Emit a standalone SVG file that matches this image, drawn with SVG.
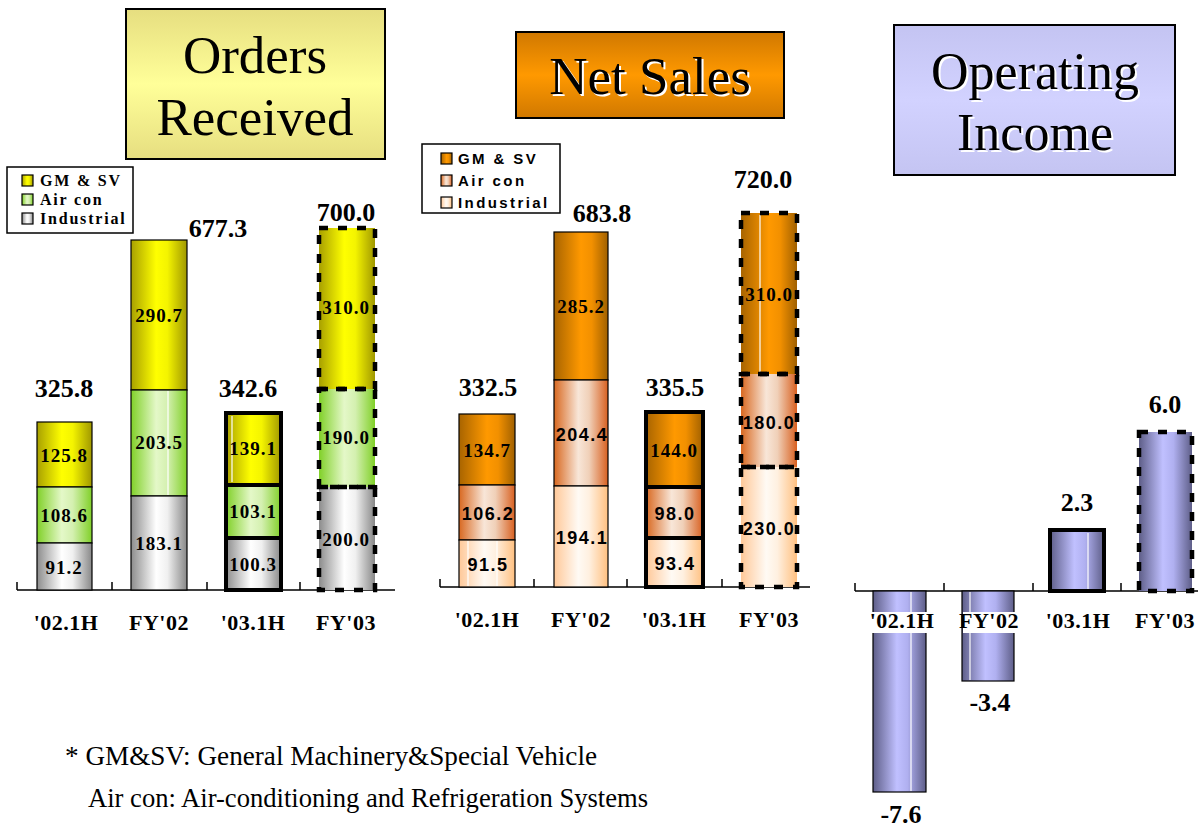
<svg xmlns="http://www.w3.org/2000/svg" width="1198" height="827" viewBox="0 0 1198 827">
<style>
.title{font-family:"Liberation Serif",serif;text-anchor:middle;fill:#000}
.tot{font-family:"Liberation Serif",serif;font-weight:bold;font-size:26px;text-anchor:middle}
.seg{font-family:"Liberation Serif",serif;font-weight:bold;font-size:19px;letter-spacing:1px;text-anchor:middle}
.segs{font-family:"Liberation Sans",sans-serif;font-weight:bold;font-size:18px;letter-spacing:1.5px;text-anchor:middle}
.cat{font-family:"Liberation Serif",serif;font-weight:bold;font-size:22px;letter-spacing:0.5px;text-anchor:middle}
.leg1{font-family:"Liberation Serif",serif;font-weight:bold;font-size:16px;letter-spacing:1.8px}
.leg2{font-family:"Liberation Sans",sans-serif;font-weight:bold;font-size:15px;letter-spacing:2.4px}
.note{font-family:"Liberation Serif",serif}
.thin{stroke:#000;stroke-width:1.2}
.thick{stroke:#000;stroke-width:4}
.dash{stroke:#000;stroke-width:4.5;stroke-dasharray:9 10;fill:none}
.hl{stroke:#fff;stroke-width:1.2}
.ax{stroke:#000;stroke-width:1.5;fill:none}
.box{stroke:#000;stroke-width:2}
</style>
<defs>
<linearGradient id="gY" x1="0" y1="0" x2="1" y2="0"><stop offset="0" stop-color="#a8a000"/><stop offset="0.45" stop-color="#ffff00"/><stop offset="0.65" stop-color="#f4f400"/><stop offset="1" stop-color="#a09800"/></linearGradient>
<linearGradient id="gG" x1="0" y1="0" x2="1" y2="0"><stop offset="0" stop-color="#80d028"/><stop offset="0.45" stop-color="#e4f8c8"/><stop offset="0.65" stop-color="#d4f0b0"/><stop offset="1" stop-color="#80d028"/></linearGradient>
<linearGradient id="gW" x1="0" y1="0" x2="1" y2="0"><stop offset="0" stop-color="#8c8c8c"/><stop offset="0.45" stop-color="#ffffff"/><stop offset="0.65" stop-color="#f0f0f0"/><stop offset="1" stop-color="#888888"/></linearGradient>
<linearGradient id="gO" x1="0" y1="0" x2="1" y2="0"><stop offset="0" stop-color="#a86400"/><stop offset="0.5" stop-color="#ff9900"/><stop offset="0.7" stop-color="#f29000"/><stop offset="1" stop-color="#a06000"/></linearGradient>
<linearGradient id="gA" x1="0" y1="0" x2="1" y2="0"><stop offset="0" stop-color="#d86820"/><stop offset="0.45" stop-color="#f8e6d8"/><stop offset="0.65" stop-color="#f0d0b8"/><stop offset="1" stop-color="#d86020"/></linearGradient>
<linearGradient id="gI" x1="0" y1="0" x2="1" y2="0"><stop offset="0" stop-color="#ffc898"/><stop offset="0.45" stop-color="#fffaf4"/><stop offset="0.65" stop-color="#fff0e0"/><stop offset="1" stop-color="#ffc080"/></linearGradient>
<linearGradient id="gP" x1="0" y1="0" x2="1" y2="0"><stop offset="0" stop-color="#5e5e88"/><stop offset="0.45" stop-color="#c0c0ff"/><stop offset="0.65" stop-color="#b0b0f0"/><stop offset="1" stop-color="#5e5e88"/></linearGradient>
<linearGradient id="tY" x1="0" y1="0" x2="0" y2="1"><stop offset="0" stop-color="#e6de80"/><stop offset="0.5" stop-color="#ffff99"/><stop offset="1" stop-color="#e6de80"/></linearGradient>
<linearGradient id="tO" x1="0" y1="0" x2="0" y2="1"><stop offset="0" stop-color="#d07800"/><stop offset="0.5" stop-color="#ff9900"/><stop offset="1" stop-color="#d07800"/></linearGradient>
<linearGradient id="tP" x1="0" y1="0" x2="0" y2="1"><stop offset="0" stop-color="#c4c4f2"/><stop offset="0.5" stop-color="#d2d2ff"/><stop offset="1" stop-color="#c4c4f2"/></linearGradient>
</defs>
<rect width="1198" height="827" fill="#fff"/>

<g id="title-orders">
<rect x="126" y="9" width="259" height="150" fill="url(#tY)" class="box"/>
<text class="title" x="255" y="73" font-size="53">Orders</text>
<text class="title" x="255" y="135" font-size="53">Received</text>
</g>
<g id="title-sales">
<rect x="516" y="32" width="268" height="86" fill="url(#tO)" class="box"/>
<text class="title" x="652" y="96" font-size="53" style="fill:#fff">Net Sales</text>
<text class="title" x="650" y="94" font-size="53">Net Sales</text>
</g>
<g id="title-income">
<rect x="894" y="25" width="281" height="150" fill="url(#tP)" class="box"/>
<text class="title" x="1037" y="91" font-size="52" style="fill:#fff">Operating</text>
<text class="title" x="1035" y="89" font-size="52">Operating</text>
<text class="title" x="1037" y="152" font-size="52" style="fill:#fff">Income</text>
<text class="title" x="1035" y="150" font-size="52">Income</text>
</g>

<g id="legend-orders">
<rect x="7" y="167" width="126" height="66" fill="#fff" stroke="#000" stroke-width="1.5"/>
<rect x="22" y="175" width="11" height="11" fill="url(#gY)" class="thin"/>
<text class="leg1" x="40" y="186">GM &amp; SV</text>
<rect x="22" y="194" width="11" height="11" fill="url(#gG)" class="thin"/>
<text class="leg1" x="40" y="205">Air con</text>
<rect x="22" y="213" width="11" height="11" fill="url(#gW)" class="thin"/>
<text class="leg1" x="40" y="224">Industrial</text>
</g>
<g id="legend-sales">
<rect x="422" y="144" width="138" height="69" fill="#fff" stroke="#000" stroke-width="1.5"/>
<rect x="441" y="153" width="11" height="11" fill="url(#gO)" class="thin"/>
<text class="leg2" x="458" y="164">GM &amp; SV</text>
<rect x="441" y="175" width="11" height="11" fill="url(#gA)" class="thin"/>
<text class="leg2" x="458" y="186">Air con</text>
<rect x="441" y="197" width="11" height="11" fill="url(#gI)" class="thin"/>
<text class="leg2" x="458" y="208">Industrial</text>
</g>

<g id="axes">
<path class="ax" d="M17 590H395M17 582V590M112 582V590M207 582V590M300 582V590"/>
<path class="ax" d="M440 587H810M440 579V587M534 579V587M627 579V587M722 579V587"/>
<path class="ax" d="M855 591H1198M855 583V591M944 583V591M1033 583V591M1121 583V591"/>
</g>

<!-- Orders Received bars -->
<g id="or-0201H">
<rect x="37" y="422" width="55" height="65" fill="url(#gY)" class="thin"/>
<rect x="37" y="487" width="55" height="56" fill="url(#gG)" class="thin"/>
<rect x="37" y="543" width="55" height="47" fill="url(#gW)" class="thin"/>
<text class="tot" x="64" y="397">325.8</text>
<text class="seg" x="64" y="462">125.8</text>
<text class="seg" x="64" y="522">108.6</text>
<text class="seg" x="64" y="574">91.2</text>
</g>
<g id="or-FY02">
<rect x="131" y="240" width="56" height="150" fill="url(#gY)" class="thin"/>
<rect x="131" y="390" width="56" height="106" fill="url(#gG)" class="thin"/>
<line x1="168" y1="391" x2="168" y2="495" class="hl"/>
<rect x="131" y="496" width="56" height="94" fill="url(#gW)" class="thin"/>
<text class="tot" x="218" y="237">677.3</text>
<text class="seg" x="159" y="322">290.7</text>
<text class="seg" x="159" y="449">203.5</text>
<text class="seg" x="159" y="550">183.1</text>
</g>
<g id="or-0301H">
<rect x="226" y="413" width="55" height="72" fill="url(#gY)" class="thick"/>
<line x1="232" y1="416" x2="232" y2="482" class="hl"/>
<rect x="226" y="485" width="55" height="53" fill="url(#gG)" class="thick"/>
<rect x="226" y="538" width="55" height="52" fill="url(#gW)" class="thick"/>
<text class="tot" x="248" y="397">342.6</text>
<text class="seg" x="253" y="455">139.1</text>
<text class="seg" x="253" y="518">103.1</text>
<text class="seg" x="253" y="571">100.3</text>
</g>
<g id="or-FY03">
<rect x="319" y="228" width="56" height="161" fill="url(#gY)"/>
<rect x="319" y="389" width="56" height="98" fill="url(#gG)"/>
<rect x="319" y="487" width="56" height="103" fill="url(#gW)"/>
<rect x="319" y="228" width="56" height="161" class="dash"/>
<rect x="319" y="389" width="56" height="98" class="dash"/>
<rect x="319" y="487" width="56" height="103" class="dash"/>
<text class="tot" x="346" y="221">700.0</text>
<text class="seg" x="346" y="314">310.0</text>
<text class="seg" x="346" y="444">190.0</text>
<text class="seg" x="346" y="546">200.0</text>
</g>
<g id="or-categories">
<text class="cat" x="66" y="630">'02.1H</text>
<text class="cat" x="159" y="630">FY'02</text>
<text class="cat" x="253" y="630">'03.1H</text>
<text class="cat" x="346" y="630">FY'03</text>
</g>

<!-- Net Sales bars -->
<g id="ns-0201H">
<rect x="459" y="414" width="56" height="71" fill="url(#gO)" class="thin"/>
<rect x="459" y="485" width="56" height="55" fill="url(#gA)" class="thin"/>
<rect x="459" y="540" width="56" height="47" fill="url(#gI)" class="thin"/>
<line x1="468" y1="541" x2="468" y2="586" class="hl"/>
<line x1="497" y1="541" x2="497" y2="586" class="hl"/>
<text class="tot" x="488" y="396">332.5</text>
<text class="seg" x="487" y="457">134.7</text>
<text class="segs" x="488" y="520">106.2</text>
<text class="segs" x="488" y="571">91.5</text>
</g>
<g id="ns-FY02">
<rect x="554" y="232" width="54" height="148" fill="url(#gO)" class="thin"/>
<rect x="554" y="380" width="54" height="106" fill="url(#gA)" class="thin"/>
<rect x="554" y="486" width="54" height="101" fill="url(#gI)" class="thin"/>
<text class="tot" x="602" y="222">683.8</text>
<text class="seg" x="581" y="313">285.2</text>
<text class="segs" x="582" y="441">204.4</text>
<text class="segs" x="582" y="544">194.1</text>
</g>
<g id="ns-0301H">
<rect x="646" y="412" width="57" height="75" fill="url(#gO)" class="thick"/>
<rect x="646" y="487" width="57" height="51" fill="url(#gA)" class="thick"/>
<rect x="646" y="538" width="57" height="49" fill="url(#gI)" class="thick"/>
<text class="tot" x="675" y="396">335.5</text>
<text class="seg" x="674" y="457">144.0</text>
<text class="segs" x="675" y="520">98.0</text>
<text class="segs" x="675" y="570">93.4</text>
</g>
<g id="ns-FY03">
<rect x="741" y="213" width="56" height="161" fill="url(#gO)"/>
<line x1="760" y1="215" x2="760" y2="372" class="hl"/>
<rect x="741" y="374" width="56" height="93" fill="url(#gA)"/>
<rect x="741" y="467" width="56" height="120" fill="url(#gI)"/>
<rect x="741" y="213" width="56" height="161" class="dash"/>
<rect x="741" y="374" width="56" height="93" class="dash"/>
<rect x="741" y="467" width="56" height="120" class="dash"/>
<text class="tot" x="763" y="188">720.0</text>
<text class="seg" x="769" y="301">310.0</text>
<text class="segs" x="769" y="429">180.0</text>
<text class="segs" x="769" y="535">230.0</text>
</g>
<g id="ns-categories">
<text class="cat" x="487" y="627">'02.1H</text>
<text class="cat" x="581" y="627">FY'02</text>
<text class="cat" x="674" y="627">'03.1H</text>
<text class="cat" x="769" y="627">FY'03</text>
</g>

<!-- Operating Income bars -->
<g id="oi-0201H">
<rect x="873" y="591" width="53" height="201" fill="url(#gP)" class="thin"/>
<line x1="911" y1="592" x2="911" y2="791" class="hl"/>
<text class="tot" x="901" y="823">-7.6</text>
</g>
<g id="oi-FY02">
<rect x="962" y="591" width="52" height="90" fill="url(#gP)" class="thin"/>
<line x1="970" y1="592" x2="970" y2="680" class="hl"/>
<text class="tot" x="990" y="711">-3.4</text>
</g>
<g id="oi-0301H">
<rect x="1050" y="530" width="54" height="61" fill="url(#gP)" class="thick"/>
<line x1="1088" y1="533" x2="1088" y2="589" class="hl"/>
<text class="tot" x="1077" y="511">2.3</text>
</g>
<g id="oi-FY03">
<rect x="1139" y="432" width="53" height="159" fill="url(#gP)"/>
<rect x="1139" y="432" width="53" height="159" class="dash"/>
<text class="tot" x="1165" y="413">6.0</text>
</g>
<g id="oi-categories">
<rect x="872" y="612" width="60" height="21" fill="#fff"/>
<rect x="963" y="612" width="52" height="21" fill="#fff"/>
<text class="cat" x="902" y="628">'02.1H</text>
<text class="cat" x="989" y="628">FY'02</text>
<text class="cat" x="1078" y="628">'03.1H</text>
<text class="cat" x="1165" y="628">FY'03</text>
</g>

<g id="notes">
<text class="note" x="65" y="765" font-size="27.2">* GM&amp;SV: General Machinery&amp;Special Vehicle</text>
<text class="note" x="88" y="807" font-size="26.6">Air con: Air-conditioning and Refrigeration Systems</text>
</g>
</svg>
